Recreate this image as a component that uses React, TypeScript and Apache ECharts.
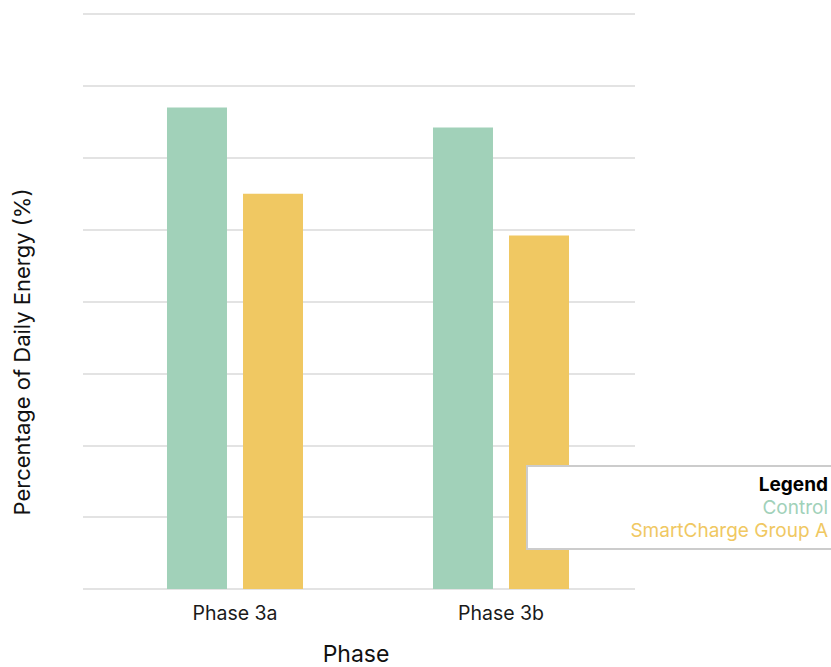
import React, { useEffect, useRef } from "react";
import * as echarts from "echarts";

// Phases on the x axis
const phases = ["Phase 3a", "Phase 3b"];

// Share of daily energy per group (%)
const controlValues = [33.5, 32.1];
const smartChargeValues = [27.5, 24.6];

const seriesNames = ["Control", "SmartCharge Group A"];
const seriesColors = ["#a1d1b9", "#f0c862"];

// Value axis range
const yMin = 0;
const yMax = 40;
const yInterval = 5;

const xTitle = "Phase";
const yTitle = "Percentage of Daily Energy (%)";
const legendTitle = "Legend";

const FONT = "Inter, 'Noto Sans', sans-serif";

export default function App() {
  const ref = useRef<HTMLDivElement | null>(null);

  useEffect(() => {
    if (!ref.current) return;
    const chart = echarts.init(ref.current, undefined, { renderer: "svg" });

    const option: echarts.EChartsOption = {
      animation: false,
      backgroundColor: "#ffffff",
      grid: [
        // bars
        { left: 102, right: 197, top: 14, bottom: 78 },
        // horizontal guide lines, slightly wider than the bar area
        { left: 83, right: 196, top: 14, bottom: 78 },
      ],
      xAxis: [
        {
          type: "category",
          gridIndex: 0,
          data: phases,
          axisLine: { show: false },
          axisTick: { show: false },
          axisLabel: {
            color: "#1a1a1a",
            fontFamily: FONT,
            fontSize: 19.5,
            lineHeight: 20,
            margin: 14,
          },
        },
        { type: "value", gridIndex: 1, min: 0, max: 1, show: false },
      ],
      yAxis: [
        {
          type: "value",
          gridIndex: 0,
          min: yMin,
          max: yMax,
          interval: yInterval,
          show: false,
        },
        {
          type: "value",
          gridIndex: 1,
          min: yMin,
          max: yMax,
          interval: yInterval,
          axisLine: { show: false },
          axisTick: { show: false },
          axisLabel: { show: false },
          splitLine: { show: true, lineStyle: { color: "#dadada", width: 1.5 } },
        },
      ],
      series: [
        {
          name: seriesNames[0],
          type: "bar",
          xAxisIndex: 0,
          yAxisIndex: 0,
          data: controlValues,
          barWidth: 60,
          barGap: "26.7%",
          itemStyle: { color: seriesColors[0] },
        },
        {
          name: seriesNames[1],
          type: "bar",
          xAxisIndex: 0,
          yAxisIndex: 0,
          data: smartChargeValues,
          barWidth: 60,
          barGap: "26.7%",
          itemStyle: { color: seriesColors[1] },
        },
      ],
      graphic: [
        {
          type: "text",
          x: 22,
          y: 352,
          rotation: Math.PI / 2,
          style: {
            text: yTitle,
            fontFamily: FONT,
            fontSize: 22,
            fill: "#111",
            align: "center",
            verticalAlign: "middle",
          },
        },
        {
          type: "text",
          x: 356,
          y: 654,
          style: {
            text: xTitle,
            fontFamily: FONT,
            fontSize: 23,
            lineHeight: 22,
            fill: "#111",
            align: "center",
            verticalAlign: "middle",
          },
        },
        {
          type: "rect",
          z: 100,
          shape: { x: 527, y: 466, width: 320, height: 83 },
          style: { fill: "#ffffff", stroke: "#cccccc", lineWidth: 2 },
        },
        {
          type: "text",
          z: 101,
          x: 828,
          y: 484,
          style: {
            text: legendTitle,
            fontFamily: FONT,
            fontSize: 19,
            fontWeight: "bold",
            fill: "#000",
            align: "right",
            verticalAlign: "middle",
          },
        },
        ...seriesNames.map((name, i) => ({
          type: "text" as const,
          z: 101,
          x: 828,
          y: 507 + i * 23.5,
          style: {
            text: name,
            fontFamily: FONT,
            fontSize: 19,
            fill: seriesColors[i],
            align: "right" as const,
            verticalAlign: "middle" as const,
          },
        })),
      ],
    };

    chart.setOption(option);
    return () => chart.dispose();
  }, []);

  return <div ref={ref} style={{ width: 831, height: 667, position: "absolute", left: 0, top: 0 }} />;
}
